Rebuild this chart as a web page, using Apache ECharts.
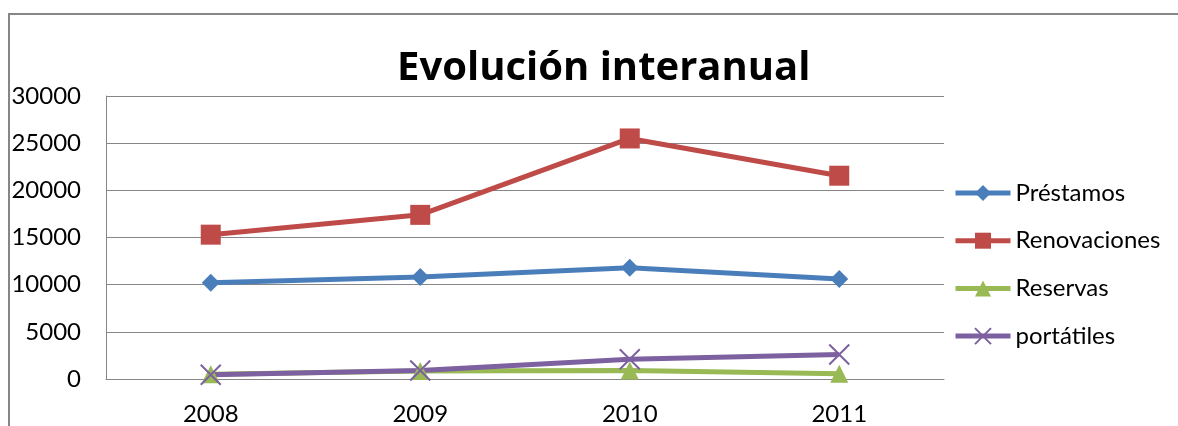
<!DOCTYPE html>
<html>
<head>
<meta charset="utf-8">
<script src="https://cdn.jsdelivr.net/npm/echarts@6/dist/echarts.min.js"></script>
<style>
    html, body { margin: 0; padding: 0; background: #fff; }
    #chart { width: 1178px; height: 426px; }
</style>
</head>
<body>
<div id="chart"></div>
<script>
    // años
    var years = ['2008', '2009', '2010', '2011'];
    // series
    var prestamos = [10200, 10800, 11800, 10600];
    var renovaciones = [15300, 17400, 25500, 21550];
    var reservas = [500, 850, 900, 550];
    var portatiles = [450, 900, 2100, 2600];

    var font = 'Lato, "Open Sans", sans-serif';
    var grey = '#868686';

    var chart = echarts.init(document.getElementById('chart'));
    var option = {
        backgroundColor: '#fff',
        animation: false,
        title: {
            text: 'Evolución interanual',
            left: 397,
            top: 49,
            padding: 0,
            textStyle: {
                fontFamily: '"Open Sans", sans-serif',
                fontSize: 40,
                fontWeight: 'bold',
                color: '#000'
            }
        },
        graphic: [{
            type: 'rect',
            shape: {x: 9, y: 14, width: 1200, height: 500},
            style: {fill: 'none', stroke: grey, lineWidth: 2}
        }],
        legend: {
            orient: 'vertical',
            left: 953,
            top: 181,
            padding: 0,
            itemWidth: 55,
            itemHeight: 20,
            itemGap: 23.7,
            lineStyle: {width: 5},
            textStyle: {
                fontFamily: font,
                fontSize: 24,
                lineHeight: 24,
                color: '#000'
            }
        },
        grid: {
            left: 106,
            right: 234,
            top: 96,
            bottom: 46
        },
        xAxis: {
            type: 'category',
            data: years,
            boundaryGap: true,
            axisLine: {lineStyle: {color: grey, width: 1}},
            axisTick: {show: false},
            axisLabel: {
                margin: 23,
                fontFamily: font,
                fontSize: 24,
                color: '#000'
            }
        },
        yAxis: {
            type: 'value',
            min: 0,
            max: 30000,
            interval: 5000,
            axisLine: {show: true, lineStyle: {color: grey, width: 1}},
            axisTick: {show: false},
            splitLine: {lineStyle: {color: grey, width: 1}},
            axisLabel: {
                margin: 25,
                fontFamily: font,
                fontSize: 24,
                color: '#000',
                formatter: function (v) { return String(v); }
            }
        },
        series: [
            {
                name: 'Préstamos',
                type: 'line',
                data: prestamos,
                symbol: 'diamond',
                symbolSize: 18,
                lineStyle: {width: 5, color: '#4a7ebb'},
                itemStyle: {color: '#4a7ebb'}
            },
            {
                name: 'Renovaciones',
                type: 'line',
                data: renovaciones,
                symbol: 'rect',
                symbolSize: 20,
                lineStyle: {width: 5, color: '#be4b48'},
                itemStyle: {color: '#be4b48'}
            },
            {
                name: 'Reservas',
                type: 'line',
                data: reservas,
                symbol: 'triangle',
                symbolSize: 18,
                lineStyle: {width: 5, color: '#98b954'},
                itemStyle: {color: '#98b954'}
            },
            {
                name: 'portátiles',
                type: 'line',
                data: portatiles,
                symbol: 'path://M0,0L20,20M20,0L0,20',
                symbolSize: 20,
                lineStyle: {width: 5, color: '#7d60a0'},
                itemStyle: {color: '#7d60a0', borderColor: '#7d60a0', borderWidth: 2}
            }
        ]
    };
    chart.setOption(option);
</script>
</body>
</html>
